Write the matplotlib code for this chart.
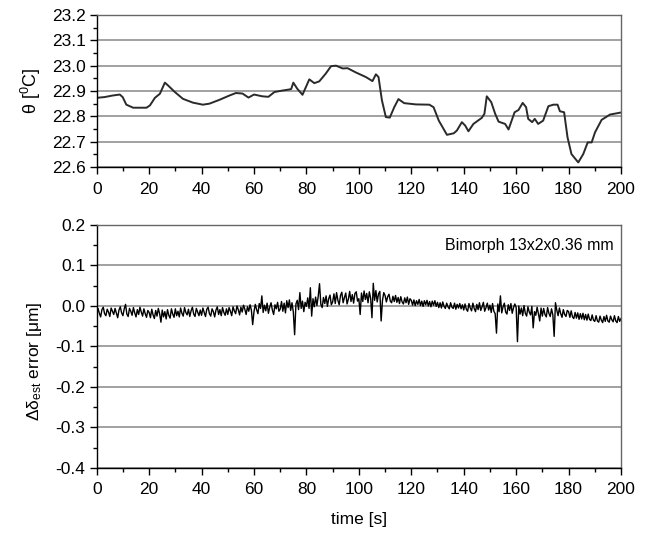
import numpy as np
from matplotlib import pyplot as plt

plt.rcParams['font.family'] = ['Liberation Sans', 'DejaVu Sans']
plt.rcParams['mathtext.fontset'] = 'custom'
plt.rcParams['mathtext.rm'] = 'Liberation Sans'
plt.rcParams['mathtext.it'] = 'Liberation Sans:italic'

# temperature trace
t_temp = [0, 3, 6, 8.8, 9.9, 11.3, 13.9, 19, 20.3, 22.2, 24.1, 26, 27.2, 29.8, 32.9, 36.7,
          40.5, 43, 46.8, 50.6, 53.1, 55.6, 57.9, 60, 63.2, 65.5, 67.8, 71, 73.5, 74.2, 75,
          76.5, 78.5, 81.1, 83, 84.9, 87.4, 89.4, 91.3, 93.8, 95.7, 98.9, 102.7, 105.2, 106.5,
          107.5, 108.8, 110.3, 111.8, 113.5, 115.1, 117.3, 121.8, 126.9, 128.5, 130.5, 133.6,
          136.2, 137.4, 139.3, 140.6, 141.8, 143.7, 146.9, 147.9, 148.8, 150.5, 152, 153.3,
          155.8, 157.1, 159.4, 160.9, 162.5, 163.8, 164.6, 166.1, 167.1, 168.4, 170.3, 172.3,
          174.2, 175.8, 176.7, 178.3, 179.6, 181.1, 183.7, 185.6, 187.3, 188.8, 190.1, 192.6,
          195.8, 200]
theta = [22.873, 22.876, 22.882, 22.886, 22.876, 22.846, 22.834, 22.834, 22.843, 22.873,
         22.889, 22.933, 22.922, 22.896, 22.869, 22.854, 22.846, 22.850, 22.865, 22.882,
         22.892, 22.890, 22.874, 22.886, 22.879, 22.877, 22.896, 22.902, 22.906, 22.908,
         22.933, 22.909, 22.885, 22.946, 22.931, 22.938, 22.969, 22.998, 23.000, 22.989,
         22.990, 22.973, 22.955, 22.939, 22.966, 22.955, 22.863, 22.797, 22.795, 22.836,
         22.868, 22.852, 22.847, 22.846, 22.836, 22.783, 22.727, 22.733, 22.744, 22.777,
         22.763, 22.741, 22.770, 22.794, 22.810, 22.879, 22.856, 22.810, 22.779, 22.770,
         22.748, 22.816, 22.825, 22.853, 22.836, 22.790, 22.777, 22.790, 22.770, 22.783,
         22.840, 22.846, 22.846, 22.820, 22.816, 22.717, 22.651, 22.618, 22.651, 22.697,
         22.697, 22.737, 22.786, 22.807, 22.815]

# estimation error [um], sampled every 0.5 s
err = [
    -0.022, -0.006, -0.018, -0.027, -0.009, -0.003, -0.019, -0.024, -0.008, -0.015, -0.026, -0.005, -0.013, -0.021, -0.006, -0.018, -0.029, -0.010, -0.002, -0.017,
    -0.024, -0.007, 0.004, -0.020, -0.026, -0.006, -0.013, -0.023, -0.004, -0.017, -0.027, -0.009, -0.021, -0.003, -0.015, -0.025, -0.007, -0.019, -0.028, -0.011,
    -0.016, -0.029, -0.008, -0.022, -0.031, -0.011, -0.025, -0.006, -0.019, -0.040, -0.010, -0.027, -0.014, -0.032, -0.009, -0.023, -0.030, -0.007, -0.020, -0.028,
    -0.007, -0.024, -0.013, -0.027, -0.005, -0.018, -0.025, -0.004, -0.016, -0.022, -0.008, -0.026, -0.012, -0.003, -0.020, -0.026, -0.006, -0.015, -0.024, -0.010,
    -0.023, -0.005, -0.016, -0.026, -0.008, -0.003, -0.019, -0.025, -0.007, -0.014, -0.027, -0.010, -0.002, -0.021, -0.009, -0.024, -0.004, -0.016, -0.023, -0.007,
    -0.021, -0.004, -0.013, -0.024, -0.002, -0.012, -0.019, 0.000, -0.009, -0.022, -0.003, -0.015, 0.002, -0.008, -0.021, -0.002, -0.013, 0.003, -0.010, -0.046,
    -0.014, 0.004, -0.009, -0.019, 0.006, -0.006, 0.025, -0.016, 0.002, -0.012, 0.007, -0.018, -0.003, 0.008, -0.010, -0.021, 0.003, -0.007, 0.009, -0.013,
    -0.008, 0.011, -0.013, 0.007, -0.017, 0.013, -0.004, 0.015, -0.011, 0.008, -0.015, -0.071, 0.005, 0.014, -0.009, 0.033, -0.006, 0.012, -0.014, 0.009,
    -0.001, 0.020, -0.006, 0.045, -0.025, 0.018, -0.002, 0.022, 0.001, 0.024, 0.055, 0.004, -0.004, 0.021, 0.006, 0.025, -0.001, 0.018, 0.027, 0.003,
    0.010, 0.030, 0.006, 0.033, 0.014, 0.003, 0.026, 0.034, 0.008, 0.021, 0.032, 0.005, 0.017, 0.036, 0.011, 0.028, 0.007, 0.031, 0.035, 0.012,
    0.018, -0.021, 0.032, 0.011, 0.037, 0.016, 0.031, 0.008, 0.035, 0.019, -0.029, 0.056, 0.014, 0.038, 0.010, 0.030, 0.036, -0.037, 0.013, 0.033,
    0.026, 0.010, 0.023, 0.029, 0.012, 0.008, 0.024, 0.011, 0.026, 0.009, 0.021, 0.006, 0.023, 0.010, 0.005, 0.020, 0.008, 0.022, 0.004, 0.018,
    0.014, 0.002, 0.015, 0.001, 0.013, 0.004, 0.016, 0.001, 0.012, -0.001, 0.013, 0.003, 0.014, 0.000, 0.011, -0.002, 0.012, 0.002, 0.013, -0.001,
    0.009, -0.004, 0.008, -0.005, 0.010, -0.001, -0.006, 0.007, -0.002, -0.007, 0.008, -0.003, -0.006, 0.007, -0.008, 0.004, -0.005, 0.006, -0.007, 0.003,
    -0.010, 0.005, -0.008, -0.013, 0.006, -0.005, -0.012, 0.007, -0.006, -0.014, 0.004, -0.009, 0.008, -0.011, -0.002, 0.009, -0.013, -0.004, 0.007, -0.010,
    0.002, -0.016, 0.006, -0.013, -0.019, -0.067, 0.005, -0.014, 0.025, -0.017, -0.002, 0.007, -0.015, -0.020, 0.003, -0.011, 0.006, -0.018, -0.004, 0.005,
    -0.003, -0.088, 0.000, -0.020, -0.005, -0.024, 0.001, -0.018, -0.025, -0.002, -0.015, -0.022, -0.001, -0.054, -0.014, -0.023, -0.003, -0.019, -0.037, -0.005,
    -0.025, -0.006, -0.021, -0.027, -0.004, -0.018, -0.026, -0.007, -0.022, -0.075, 0.008, -0.010, -0.024, -0.005, -0.019, -0.028, -0.009, -0.021, -0.026, -0.011,
    -0.014, -0.028, -0.012, -0.027, -0.031, -0.016, -0.030, -0.017, -0.033, -0.019, -0.032, -0.018, -0.034, -0.021, -0.035, -0.020, -0.033, -0.036, -0.022, -0.035,
    -0.038, -0.024, -0.037, -0.040, -0.025, -0.035, -0.041, -0.026, -0.038, -0.023, -0.037, -0.040, -0.025, -0.034, -0.039, -0.024, -0.037, -0.041, -0.026, -0.038,
    -0.031]
t_err = np.arange(len(err)) * 0.5

fig = plt.figure(figsize=(6.46, 5.34), dpi=100)
ax1 = fig.add_axes([0.1497, 0.6873, 0.8116, 0.2846])
ax2 = fig.add_axes([0.1497, 0.1236, 0.8116, 0.4551])

def style(ax, ylo, yhi, ystep, xpad):
	ax.set_xlim(0, 200)
	ax.set_ylim(ylo, yhi)
	ax.set_xticks(np.arange(0, 201, 20))
	ax.set_xticks(np.arange(0, 201, 10), minor=True)
	yt = np.arange(ylo, yhi + ystep / 2, ystep)
	ax.set_yticks(yt)
	# avoid "-0.0"
	ax.set_yticklabels(['%.1f' % (v if abs(v) > 1e-9 else 0.0) for v in yt])
	ax.set_yticks(np.arange(ylo, yhi + ystep / 4, ystep / 2), minor=True)
	ax.yaxis.grid(True, color='#9a9a9a', linewidth=1.3)
	ax.set_axisbelow(True)
	ax.tick_params(which='major', direction='out', length=5, width=1, labelsize=12.5, pad=3)
	ax.tick_params(axis='x', which='major', pad=xpad)
	ax.tick_params(which='minor', direction='out', length=3, width=1)
	for s in ax.spines.values():
		s.set_linewidth(1.0)
	ax.spines['top'].set_color('#666666')
	ax.spines['right'].set_color('#666666')

ax1.plot(t_temp, theta, color='#2a2a2a', linewidth=1.4)
style(ax1, 22.6, 23.2, 0.1, 6)
ax1.set_ylabel(r'θ [$^{0}$C]', fontsize=13, labelpad=6)

ax2.plot(t_err, err, color='black', linewidth=1.0)
style(ax2, -0.4, 0.2, 0.1, 5)
ax2.set_ylabel(r'Δδ$_{\mathrm{est}}$ error [μm]', fontsize=12.5)
ax2.yaxis.set_label_coords(-0.1, 0.44)
ax2.set_xlabel('time [s]', fontsize=12.5, labelpad=11)
ax2.text(0.985, 0.915, 'Bimorph 13x2x0.36 mm', transform=ax2.transAxes,
	ha='right', va='center', fontsize=11.5)

plt.savefig('out.png', dpi=100)
